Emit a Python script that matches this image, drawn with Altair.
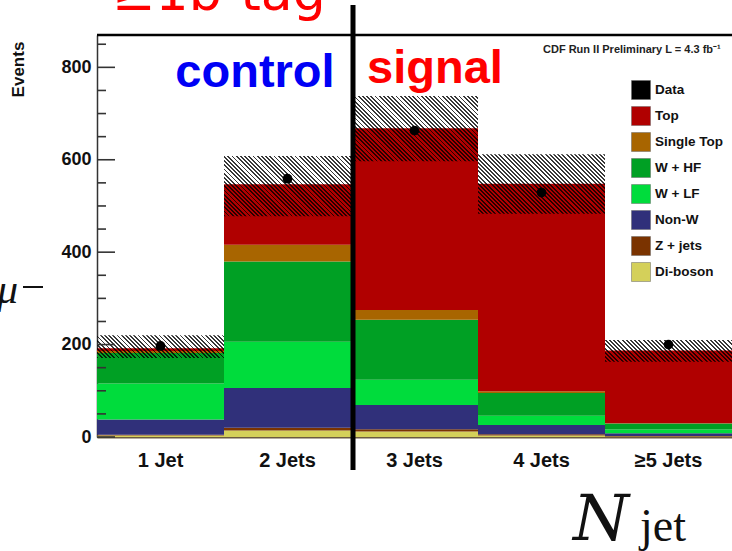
import math
import altair as alt
import pandas as pd

# ---------------- data ----------------
cats = ["1 Jet", "2 Jets", "3 Jets", "4 Jets", "≥5 Jets"]
# stack order bottom -> top
comps = ["Di-boson", "Z + jets", "Non-W", "W + LF", "W + HF", "Single Top", "Top"]
diboson = [3, 14, 12, 3, 1]
zjets = [2, 6, 5, 3, 1]
nonw = [33, 86, 52, 20, 6]
wlf = [78, 100, 55, 20, 8]
whf = [66, 174, 130, 49, 13]
single_top = [4, 36, 21, 4, 1]
top = [6, 131, 393, 449, 157]
data_vals = [197, 559, 663, 529, 200]
unc_low = [171, 478, 597, 483, 163]
unc_high = [220, 608, 738, 612, 210]

legend_names = ["Data", "Top", "Single Top", "W + HF", "W + LF", "Non-W", "Z + jets", "Di-boson"]
legend_colors = ["#000000", "#b00000", "#a86500", "#00a024", "#00dc3c", "#30307a", "#7a3300", "#d4d05a"]

y_major = [0, 200, 400, 600, 800]
y_minor = [50, 100, 150, 250, 300, 350, 450, 500, 550, 650, 700, 750, 850]

# ---------------- layout ----------------
W, H = 635, 402
YMAX = 870
PAD_L, PAD_T = 97, 35
FONT = "Liberation Sans"

series = [diboson, zjets, nonw, wlf, whf, single_top, top]
rows = []
for k, (name, vals) in enumerate(zip(comps, series)):
    for c, v in zip(cats, vals):
        rows.append({"cat": c, "comp": name, "value": v, "ord": k})
stack_df = pd.DataFrame(rows)
pts_df = pd.DataFrame({"cat": cats, "data": data_vals})
hatch_df = pd.DataFrame({"cat": cats, "lo": unc_low, "hi": unc_high})

x_scale = alt.Scale(domain=cats, paddingInner=0, paddingOuter=0)
x_axis = alt.Axis(title=None, labelAngle=0, labelFont=FONT, labelFontSize=20,
                  labelFontWeight="bold", labelColor="#111", labelPadding=13,
                  ticks=False, tickSize=0, domain=True, domainColor="#6b5a40",
                  domainWidth=2, grid=False)
x_enc = alt.X("cat:N", sort=cats, scale=x_scale, axis=x_axis)
y_scale = alt.Scale(domain=[0, YMAX], nice=False, zero=True)
y_axis = alt.Axis(title="Events", values=y_major, ticks=False, tickSize=0,
                  labelFont=FONT, labelFontSize=18, labelFontWeight="bold",
                  labelColor="#111", labelPadding=6, domainColor="#333",
                  domainWidth=1.5, grid=False, titleFont=FONT, titleFontSize=17,
                  titleFontWeight="bold", titleColor="#111", titleX=-79, titleY=34,
                  titleAlign="center", titleBaseline="middle", titleAngle=270)


def Y(field):
    return alt.Y(field, scale=y_scale, axis=y_axis)


bars = alt.Chart(stack_df).mark_bar(opacity=1).encode(
    x=x_enc,
    y=alt.Y("value:Q", stack="zero", scale=y_scale, axis=y_axis),
    color=alt.Color("comp:N", scale=alt.Scale(domain=legend_names, range=legend_colors),
                    legend=alt.Legend(title=None, orient="none", legendX=534, legendY=45,
                                      symbolType="square", symbolSize=361,
                                      symbolStrokeColor="#666", symbolStrokeWidth=0.5,
                                      symbolOpacity=1, labelFont=FONT, labelFontSize=13.5,
                                      labelFontWeight="bold", labelColor="#111",
                                      rowPadding=4, labelOffset=4, padding=0, offset=0)),
    order=alt.Order("ord:Q", sort="ascending"),
)


def hatch_gradient(wpx, hpx, period_h=4.2, frac=0.45):
    perp = period_h / math.sqrt(2)
    n = (wpx + hpx) / math.sqrt(2) / perp
    k = (wpx + hpx) / (wpx ** 2 + hpx ** 2)
    dark, clear = "rgba(0,0,0,0.78)", "rgba(0,0,0,0)"
    stops = []
    i = 0
    while i < n:
        a = min(i / n, 1.0)
        b = min((i + frac) / n, 1.0)
        c = min((i + 1) / n, 1.0)
        stops += [(a, dark), (b, dark), (b, clear), (c, clear)]
        i += 1
    return alt.LinearGradient(
        gradient="linear", x1=0, y1=1, x2=k * wpx, y2=1 - k * hpx,
        stops=[alt.GradientStop(offset=o, color=col) for o, col in stops],
    )


hatches = []
bw = W / len(cats)
for c, lo, hi in zip(cats, unc_low, unc_high):
    hpx = (hi - lo) * H / YMAX
    hatches.append(
        alt.Chart(hatch_df[hatch_df["cat"] == c]).mark_rect(fill=hatch_gradient(bw, hpx)).encode(
            x=x_enc, y=Y("lo:Q"), y2="hi:Q")
    )

points = alt.Chart(pts_df).mark_circle(size=95, color="black", opacity=1).encode(
    x=x_enc, y=Y("data:Q"))

ticks_major = alt.Chart(pd.DataFrame({"t": y_major})).mark_rule(color="#333", strokeWidth=1.6).encode(
    y=Y("t:Q"), x=alt.value(0), x2=alt.value(18))
ticks_minor = alt.Chart(pd.DataFrame({"t": y_minor})).mark_rule(color="#333", strokeWidth=1.6).encode(
    y=Y("t:Q"), x=alt.value(0), x2=alt.value(9))

frame_top = alt.Chart(pd.DataFrame({"t": [YMAX]})).mark_rule(color="black", strokeWidth=2.5).encode(
    y=Y("t:Q"))

vline = alt.Chart(pd.DataFrame({"cat": ["3 Jets"]})).mark_rule(
    color="black", strokeWidth=5, xOffset=2).encode(
    x=alt.X("cat:N", sort=cats, bandPosition=0, scale=x_scale, axis=x_axis),
    y=alt.value(5 - PAD_T), y2=alt.value(470 - PAD_T))


def label(text, x, y, **kw):
    return alt.Chart(pd.DataFrame({"t": [text]})).mark_text(**kw).encode(
        text="t:N", x=alt.value(x - PAD_L), y=alt.value(y - PAD_T))


texts = [
    label("control", 255, 87, font=FONT, fontSize=47, fontWeight="bold", color="#0000f5",
          align="center", baseline="alphabetic"),
    label("signal", 435, 83, font=FONT, fontSize=47, fontWeight="bold", color="#ff0000",
          align="center", baseline="alphabetic"),
    label("CDF Run II Preliminary L = 4.3 fb⁻¹", 543, 50, font=FONT, fontSize=11,
          fontWeight="bold", color="#222", align="left", baseline="middle"),
    label("≥1b-tag", 112, 10, font="DejaVu Sans", fontSize=52, color="#ff0000",
          align="left", baseline="alphabetic"),
    label("μ", 18, 303, font="Liberation Serif", fontSize=42, fontStyle="italic",
          color="#111", align="right", baseline="alphabetic"),
    label("N", 573, 540, font="DejaVu Serif", fontSize=64, fontStyle="italic",
          color="#111", align="left", baseline="alphabetic"),
    label("jet", 640, 541, font="Liberation Serif", fontSize=46, color="#111",
          align="left", baseline="alphabetic"),
]
minus = alt.Chart(pd.DataFrame({"t": [0]})).mark_rule(color="#111", strokeWidth=2).encode(
    x=alt.value(23 - PAD_L), x2=alt.value(43 - PAD_L), y=alt.value(287 - PAD_T))

chart = alt.layer(
    bars, *hatches, ticks_major, ticks_minor, points, frame_top, vline, *texts, minus
).properties(
    width=W, height=H,
    padding={"left": PAD_L, "top": PAD_T, "right": 0, "bottom": 551 - PAD_T - H},
    autosize=alt.AutoSizeParams(type="none"),
).configure_view(stroke=None)

chart.save("out.html", embed_options={"renderer": "svg", "actions": False})
